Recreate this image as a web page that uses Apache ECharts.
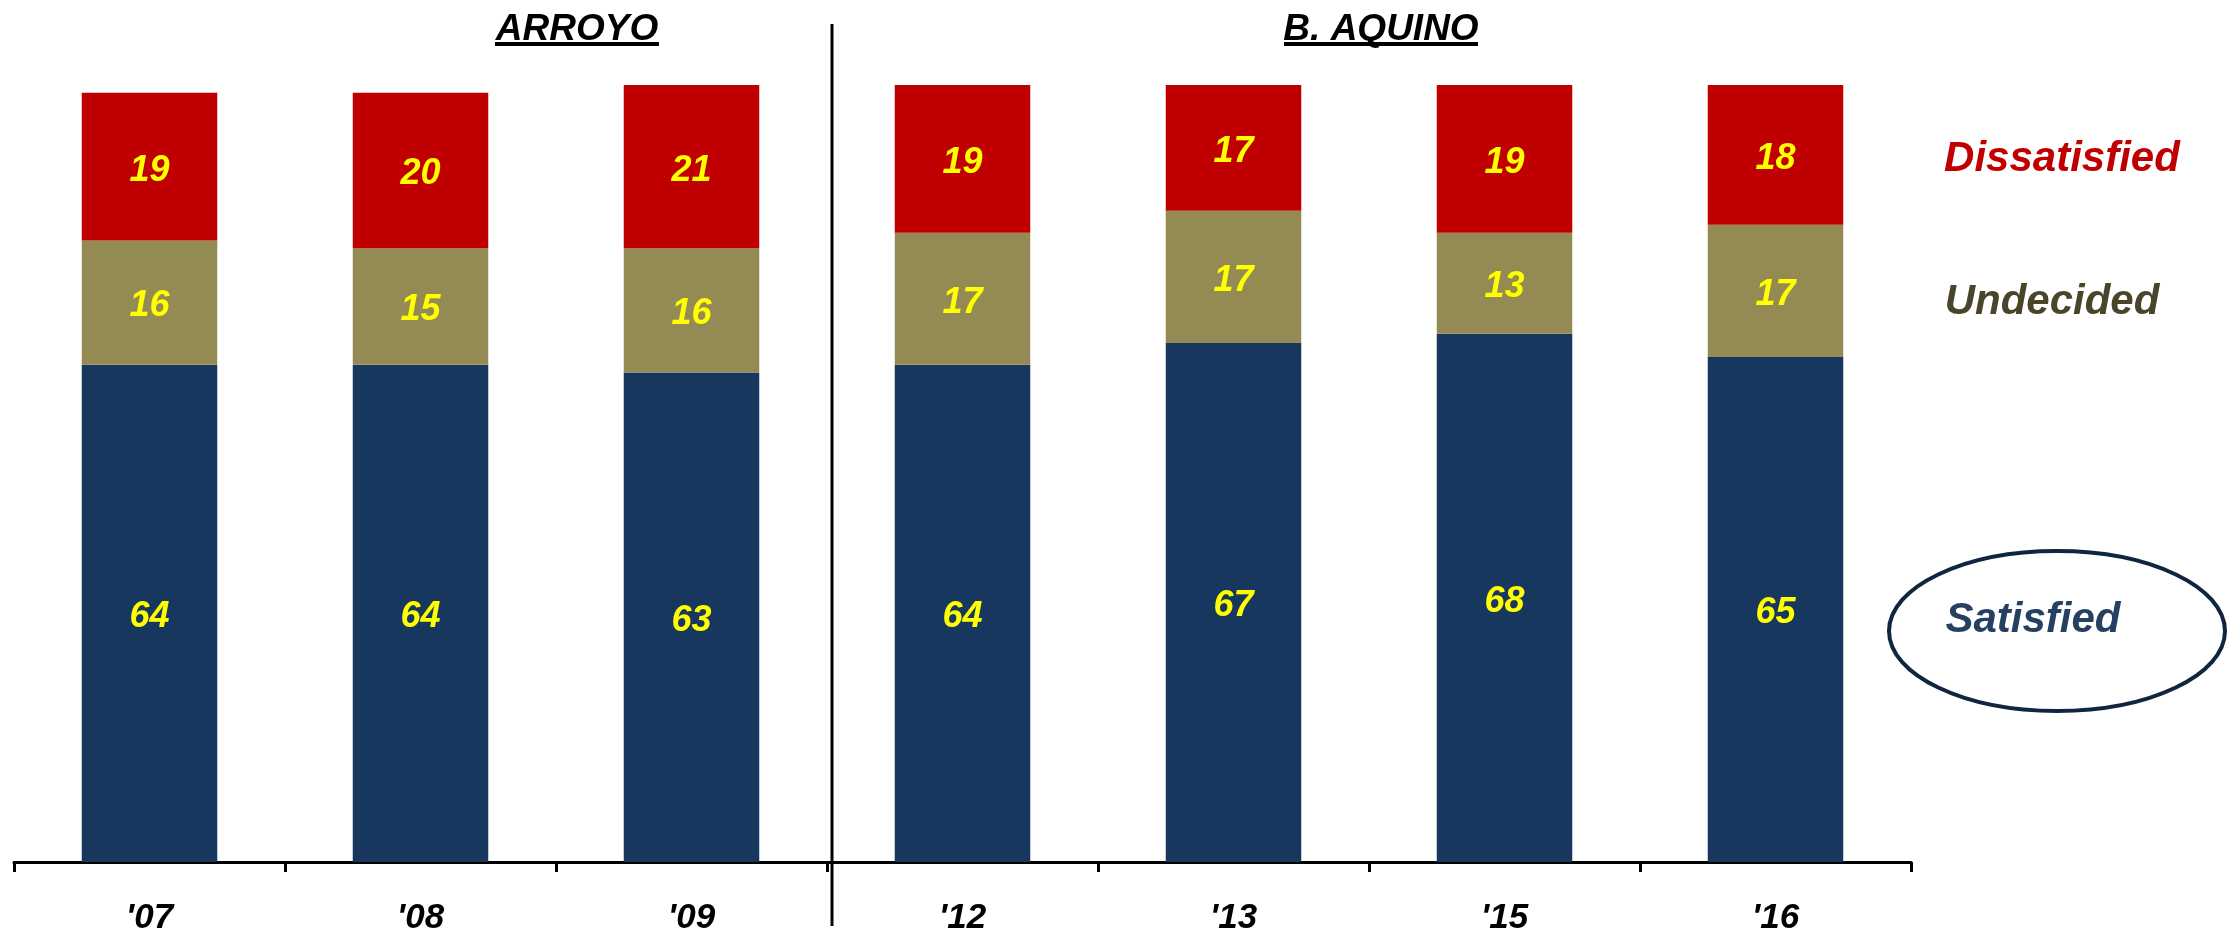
<!DOCTYPE html>
<html>
<head>
<meta charset="utf-8">
<script src="https://cdn.jsdelivr.net/npm/echarts@6/dist/echarts.min.js"></script>
<style>
html,body{margin:0;padding:0;background:#fff;}
#chart{width:2229px;height:936px;}
</style>
</head>
<body>
<div id="chart"></div>
<script>
const categories = ["'07", "'08", "'09", "'12", "'13", "'15", "'16"];
const satisfied = [64, 64, 63, 64, 66.8, 68, 65];
const undecided = [16, 15, 16, 17, 17, 13, 17];
const dissatisfied = [19, 20, 21, 19, 16.5, 19, 18];
const groupTitles = ["ARROYO", "B. AQUINO"];
const seriesNames = ["Satisfied", "Undecided", "Dissatisfied"];

const FONT = "'Liberation Sans', Arial, sans-serif";
const chart = echarts.init(document.getElementById('chart'), null, {renderer: 'canvas'});

const labelStyle = {
  show: true,
  position: 'inside',
  offset: [0, 4],
  color: '#ffff00',
  fontSize: 36,
  fontWeight: 'bold',
  fontStyle: 'italic',
  fontFamily: FONT,
  formatter: p => Math.round(p.value)
};

function mkSeries(name, data, color) {
  return {
    name: name,
    type: 'bar',
    stack: 'total',
    data: data,
    barWidth: '50%',
    itemStyle: {color: color},
    label: labelStyle
  };
}

const option = {
  animation: false,
  backgroundColor: '#ffffff',
  grid: {left: 14, right: 318, top: 85, bottom: 73, containLabel: false},
  xAxis: {
    type: 'category',
    data: categories,
    boundaryGap: true,
    axisLine: {show: true, lineStyle: {color: '#000', width: 3}},
    axisTick: {show: true, length: 10, lineStyle: {color: '#000', width: 3}},
    axisLabel: {
      margin: 39,
      color: '#000',
      fontSize: 35,
      fontWeight: 'bold',
      fontStyle: 'italic',
      fontFamily: FONT
    }
  },
  yAxis: {
    type: 'value',
    min: 0,
    max: 100,
    show: false,
    splitLine: {show: false}
  },
  series: [
    mkSeries(seriesNames[0], satisfied, '#18375f'),
    mkSeries(seriesNames[1], undecided, '#948a54'),
    mkSeries(seriesNames[2], dissatisfied, '#c00000')
  ],
  graphic: [
    {type: 'line', shape: {x1: 832, y1: 24, x2: 832, y2: 926}, style: {stroke: '#000', lineWidth: 3}},
    {type: 'text', x: 577, y: 30, style: {text: groupTitles[0], fill: '#000', font: 'italic bold 37px ' + FONT, textAlign: 'center', textVerticalAlign: 'middle'}},
    {type: 'rect', shape: {x: 495, y: 42, width: 164, height: 4}, style: {fill: '#000'}},
    {type: 'text', x: 1381, y: 30, style: {text: groupTitles[1], fill: '#000', font: 'italic bold 37px ' + FONT, textAlign: 'center', textVerticalAlign: 'middle'}},
    {type: 'rect', shape: {x: 1284, y: 42, width: 194, height: 4}, style: {fill: '#000'}},
    {type: 'text', x: 2062, y: 159, style: {text: seriesNames[2], fill: '#c00000', font: 'italic bold 42px ' + FONT, textAlign: 'center', textVerticalAlign: 'middle'}},
    {type: 'text', x: 2052, y: 302, style: {text: seriesNames[1], fill: '#4a452a', font: 'italic bold 42px ' + FONT, textAlign: 'center', textVerticalAlign: 'middle'}},
    {type: 'ellipse', shape: {cx: 2057, cy: 631, rx: 168, ry: 80}, style: {fill: 'none', stroke: '#10253f', lineWidth: 4}},
    {type: 'text', x: 2033, y: 620, style: {text: seriesNames[0], fill: '#254061', font: 'italic bold 42px ' + FONT, textAlign: 'center', textVerticalAlign: 'middle'}}
  ]
};
chart.setOption(option);
</script>
</body>
</html>
